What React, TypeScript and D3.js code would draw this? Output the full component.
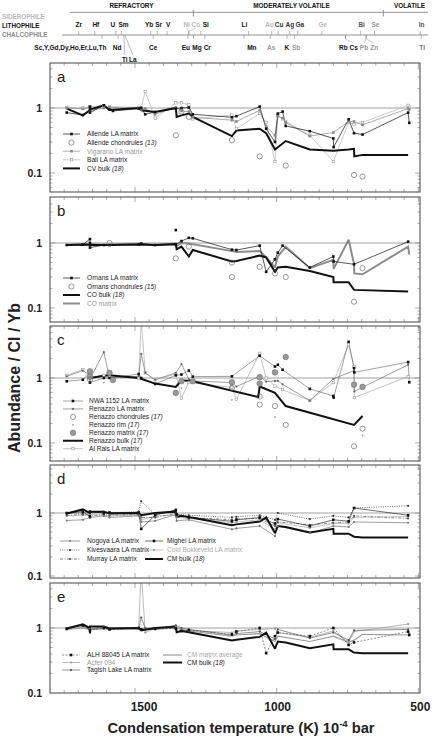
import React from 'react';
import * as d3 from 'd3';

type Pt = [string, number];

// Condensation temperatures (K, 10^-4 bar) of the plotted elements
const elementTemps: [string, number][] = [
  ['Zr', 1741], ['Hf', 1684], ['Sc', 1659], ['Y', 1659], ['Gd', 1659], ['Dy', 1659], ['Ho', 1659], ['Er', 1659], ['Lu', 1659], ['Th', 1659],
  ['U', 1610], ['Nd', 1602], ['Sm', 1590], ['Ti', 1582], ['La', 1578], ['Yb', 1487], ['Ce', 1478], ['Sr', 1464], ['V', 1429],
  ['Eu', 1356], ['Ni', 1353], ['Co', 1352], ['Mg', 1336], ['Si', 1310], ['Cr', 1296], ['Mn', 1158], ['Li', 1142],
  ['As', 1065], ['Au', 1060], ['Cu', 1037], ['K', 1006], ['Ag', 996], ['Sb', 979], ['Ga', 968], ['Ge', 883],
  ['Rb', 800], ['Cs', 799], ['Bi', 746], ['Pb', 727], ['Zn', 726], ['Se', 697], ['In', 536], ['Tl', 532],
];
const TEMP = new Map(elementTemps);
const temp = (e: string) => TEMP.get(e) as number;

const xTicks = d3.range(500, 1800, 50);
const xTickLabels = [1500, 1000, 500];

// Header element labels: [label, element, row, group]
const headerLabels: [string, string, string, string][] = [
  ['Zr', 'Zr', 'u', 'l'], ['Hf', 'Hf', 'u', 'l'], ['U', 'U', 'u', 'l'], ['Sm', 'Sm', 'u', 'l'], ['Yb', 'Yb', 'u', 'l'], ['Sr', 'Sr', 'u', 'l'],
  ['V', 'V', 'u', 'l'], ['Ni', 'Ni', 'u', 's'], ['Co', 'Co', 'u', 's'], ['Si', 'Si', 'u', 'l'], ['Li', 'Li', 'u', 'l'], ['Au', 'Au', 'u', 's'],
  ['Cu', 'Cu', 'u', 'd'], ['Ag', 'Ag', 'u', 'd'], ['Ga', 'Ga', 'u', 'd'], ['Ge', 'Ge', 'u', 's'], ['Bi', 'Bi', 'u', 'm'], ['Se', 'Se', 'u', 'c'],
  ['In', 'In', 'u', 'm'],
  ['Sc,Y,Gd,Dy,Ho,Er,Lu,Th', 'Sc', 'd', 'l'], ['Nd', 'Nd', 'd', 'l'], ['Ce', 'Ce', 'd', 'l'], ['Eu', 'Eu', 'd', 'l'], ['Mg', 'Mg', 'd', 'l'],
  ['Cr', 'Cr', 'd', 'l'], ['Mn', 'Mn', 'd', 'l'], ['As', 'As', 'd', 'c'], ['K', 'K', 'd', 'l'], ['Sb', 'Sb', 'd', 'c'], ['Rb', 'Rb', 'd', 'l'],
  ['Cs', 'Cs', 'd', 'l'], ['Pb', 'Pb', 'd', 'c'], ['Zn', 'Zn', 'd', 'c'], ['Tl', 'Tl', 'd', 'm2'],
  ['Ti', 'Ti', 'd2', 'l'], ['La', 'La', 'd2', 'l'],
];
const labelDx: Record<string, number> = {
  Hf: 1, U: -3, Sm: 2, Yb: -1.5, Sr: 1.5, V: 1, Ni: -2, Co: 7, Si: 5, Li: -4, Au: -2, Cu: 1, Ga: 2, Ge: 1, Bi: 1, Se: 1, In: 1.5,
  'Sc,Y,Gd,Dy,Ho,Er,Lu,Th': 4.5, Nd: -1, Eu: -2, Mg: 3.5, Cr: 2.5, Mn: 8, As: 1, Sb: 1.5, Rb: -2, Cs: 8, Pb: -2, Zn: 8, Tl: 1, Ti: 1, La: 8,
};
const withConnector = new Set(['Ni', 'Co', 'Cs', 'Pb', 'Zn', 'Ti', 'La']);
const groupColor: Record<string, string> = { l: '#111', s: '#b8b8b8', c: '#999', d: '#333', m: '#555', m2: '#777' };

// ---------------- Panel a ----------------
const allendeLA: Pt[] = [['Zr', 0.85], ['Hf', 0.78], ['Sc', 0.95], ['Y', 1.05], ['Lu', 0.85], ['U', 1.1], ['Sm', 0.95], ['La', 0.9], ['Yb', 0.98], ['Ce', 1.0], ['Sr', 0.8], ['V', 0.87], ['Eu', 0.98], ['Mg', 1.0], ['Si', 1.02], ['Cr', 0.8], ['Mn', 0.72], ['Li', 0.75], ['Au', 1.05], ['Cu', 0.48], ['K', 0.3], ['Ag', 0.82], ['Sb', 0.88], ['Ga', 0.53], ['Ge', 0.44], ['Rb', 0.34], ['Cs', 0.25], ['Bi', 0.67], ['Pb', 0.41], ['Se', 0.39], ['In', 0.85], ['Tl', 0.59]];
const vigaranoLA: Pt[] = [['Zr', 1.0], ['Hf', 0.97], ['Sc', 1.02], ['Y', 0.92], ['U', 1.0], ['Sm', 1.02], ['Yb', 1.0], ['Ce', 0.95], ['Sr', 0.98], ['V', 0.8], ['Eu', 1.02], ['Mg', 0.9], ['Si', 0.88], ['Cr', 0.72], ['Mn', 0.65], ['Li', 0.62], ['Au', 0.92], ['Cu', 0.52], ['K', 0.38], ['Ag', 0.75], ['Sb', 0.7], ['Ga', 0.6], ['Ge', 0.37], ['Rb', 0.42], ['Bi', 0.62], ['Pb', 0.62], ['Se', 0.55], ['In', 0.98], ['Tl', 0.95]];
const baliLA: Pt[] = [['Zr', 1.02], ['Hf', 1.0], ['Sc', 1.05], ['U', 1.08], ['Sm', 1.05], ['Yb', 1.02], ['Ce', 1.0], ['Sr', 1.8], ['V', 0.7], ['Eu', 1.2], ['Mg', 1.2], ['Si', 1.12], ['Cr', 0.68], ['Mn', 0.78], ['Li', 0.48], ['Au', 0.82], ['Cu', 0.6], ['K', 0.15], ['Ag', 0.76], ['Sb', 0.68], ['Ga', 0.62], ['Ge', 0.38], ['Rb', 0.15], ['Bi', 0.6], ['Pb', 0.56], ['Se', 0.6], ['In', 1.1], ['Tl', 1.02]];
const allendeChondrules: Pt[] = [['Eu', 0.38], ['Mg', 0.88], ['Si', 0.73], ['Mn', 0.32], ['Au', 0.18], ['Ga', 0.13], ['Pb', 0.093], ['Se', 0.088]];
const cvBulk: Pt[] = [['Zr', 0.98], ['Hf', 0.77], ['Sc', 0.92], ['Y', 0.95], ['U', 1.1], ['Sm', 0.93], ['Yb', 1.0], ['Ce', 0.92], ['V', 0.87], ['Eu', 1.0], ['Ni', 0.73], ['Mg', 0.77], ['Si', 0.82], ['Cr', 0.73], ['Mn', 0.37], ['Li', 0.45], ['Au', 0.48], ['Cu', 0.41], ['K', 0.23], ['Ga', 0.31], ['Ge', 0.23], ['Rb', 0.22], ['Bi', 0.23], ['Pb', 0.235], ['Zn', 0.18], ['Se', 0.19], ['In', 0.19]];

// ---------------- Panel b ----------------
const ornansLA: Pt[] = [['Zr', 0.93], ['Hf', 0.94], ['Sc', 1.15], ['Y', 1.0], ['Lu', 0.85], ['U', 0.93], ['Sm', 0.93], ['Yb', 0.95], ['Ce', 0.98], ['V', 0.93], ['Eu', 0.95], ['Mg', 1.07], ['Si', 1.2], ['Cr', 1.18], ['Mn', 0.79], ['Li', 0.78], ['Au', 0.91], ['Cu', 0.36], ['K', 0.56], ['Ag', 0.71], ['Sb', 0.91], ['Ge', 0.42], ['Rb', 0.62], ['Cs', 0.52], ['Pb', 0.47], ['In', 1.05]];
const ornansLAOutliers: Pt[] = [['Eu', 1.58]];
const ornansChondrules: Pt[] = [['Sm', 1.0], ['Eu', 0.58], ['Si', 0.88], ['Mn', 0.5], ['Mn', 0.3], ['Au', 0.43], ['K', 0.34], ['Ga', 0.3], ['Pb', 0.125], ['Se', 0.41]];
const coBulk: Pt[] = [['Zr', 0.93], ['Hf', 0.95], ['Sc', 0.93], ['U', 0.93], ['Sm', 0.93], ['Yb', 0.95], ['V', 0.93], ['Eu', 0.96], ['Ni', 0.8], ['Mg', 0.88], ['Si', 0.62], ['Cr', 0.78], ['Mn', 0.52], ['Li', 0.53], ['Au', 0.64], ['Cu', 0.6], ['K', 0.36], ['Ag', 0.42], ['Ga', 0.43], ['Ge', 0.37], ['Rb', 0.3], ['Cs', 0.25], ['Bi', 0.25], ['Pb', 0.19], ['In', 0.18]];
const coMatrix: Pt[] = [['Zr', 0.93], ['Hf', 0.95], ['Sc', 0.97], ['U', 0.93], ['Sm', 0.95], ['Yb', 0.97], ['V', 0.93], ['Eu', 0.98], ['Ni', 0.9], ['Mg', 1.0], ['Si', 0.98], ['Mn', 0.75], ['Li', 0.73], ['Au', 0.75], ['Cu', 0.6], ['K', 0.42], ['Ag', 0.62], ['Ga', 0.88], ['Ge', 0.41], ['Rb', 0.55], ['Cs', 0.4], ['Bi', 1.12], ['Pb', 0.48], ['Zn', 0.34], ['Se', 0.33], ['In', 0.88], ['Tl', 0.66]];

// ---------------- Panel c ----------------
const nwa1152LA: Pt[] = [['Zr', 0.89], ['Hf', 0.94], ['Sc', 1.2], ['Y', 0.85], ['U', 1.0], ['Sm', 1.0], ['Yb', 1.15], ['Ce', 1.0], ['V', 0.81], ['Eu', 1.1], ['Mg', 1.13], ['Si', 1.3], ['Cr', 1.05], ['Mn', 1.06], ['Au', 2.2], ['K', 1.5], ['Ag', 1.6], ['Sb', 1.34], ['Ge', 0.68], ['Rb', 0.53], ['Cs', 0.5], ['Bi', 3.6], ['Pb', 1.42], ['Zn', 1.22], ['In', 1.76], ['Tl', 0.86]];
const renazzoLA: Pt[] = [['Zr', 1.06], ['Hf', 1.3], ['Sc', 1.1], ['Y', 0.95], ['U', 2.5], ['Sm', 1.0], ['Yb', 1.06], ['Ce', 2.35], ['Sr', 1.2], ['V', 0.94], ['Eu', 1.2], ['Mg', 1.64], ['Si', 0.95], ['Cr', 0.9], ['Mn', 0.85], ['Li', 0.74], ['Au', 1.06], ['Cu', 0.88], ['K', 0.9], ['Ag', 0.9], ['Sb', 0.8], ['Ge', 0.45], ['Rb', 0.97], ['Pb', 1.3], ['Zn', 0.62], ['Se', 0.72], ['In', 1.6]];
const alRaisLA: Pt[] = [['Zr', 1.1], ['Hf', 1.35], ['Sc', 1.0], ['U', 1.1], ['Sm', 1.05], ['Yb', 1.0], ['Ce', 8], ['Sr', 1.2], ['V', 0.94], ['Eu', 1.15], ['Mg', 0.49], ['Si', 0.85], ['Mn', 0.72], ['Li', 0.47], ['Au', 2.4], ['Cu', 1.0], ['K', 0.75], ['Sb', 0.66], ['Ge', 0.45], ['Rb', 0.85], ['Bi', 3.3], ['Pb', 1.5], ['Zn', 0.5], ['In', 1.05]];
const renazzoChondrules: Pt[] = [['Sc', 0.95], ['Mn', 0.7], ['Au', 0.52], ['Au', 0.39], ['K', 0.37], ['Ga', 0.19], ['Pb', 0.089], ['Se', 0.166]];
const renazzoRim: Pt[] = [['U', 0.85], ['Mg', 0.7], ['Mn', 0.46], ['K', 0.25], ['Se', 0.13]];
const renazzoMatrix: Pt[] = [['Sc', 1.27], ['Sc', 1.05], ['Sm', 1.2], ['La', 0.93], ['Eu', 0.59], ['Mg', 0.89], ['Cr', 0.89], ['Mn', 0.86], ['Au', 1.03], ['Au', 0.82], ['K', 1.22], ['Ga', 2.1], ['Pb', 0.79], ['Se', 0.73]];
const renazzoBulk: Pt[] = [['Sc', 1.0], ['U', 1.08], ['Sm', 1.1], ['Yb', 1.0], ['V', 0.82], ['Eu', 0.73], ['Mg', 0.92], ['Cr', 0.89], ['As', 0.51], ['Au', 0.74], ['K', 0.59], ['Ga', 0.37], ['Pb', 0.19], ['Se', 0.26]];

// ---------------- Panel d ----------------
const nogoyaLA: Pt[] = [['Zr', 0.76], ['Hf', 0.78], ['Sc', 0.85], ['U', 0.9], ['Sm', 0.85], ['Yb', 0.9], ['Ce', 0.72], ['V', 0.75], ['Eu', 0.95], ['Ni', 0.75], ['Si', 0.78], ['Mn', 0.55], ['Li', 0.57], ['Au', 0.62], ['K', 0.43], ['Ag', 0.62], ['Ge', 0.48], ['Rb', 0.62], ['Bi', 0.6], ['Pb', 0.72], ['In', 0.7]];
const kivesvaaraLA: Pt[] = [['Zr', 0.98], ['Hf', 1.0], ['Sc', 1.0], ['U', 1.05], ['Sm', 1.0], ['Yb', 1.05], ['Ce', 1.53], ['V', 0.95], ['Eu', 1.1], ['Ni', 0.95], ['Si', 0.92], ['Mn', 0.85], ['Li', 0.87], ['Au', 0.92], ['K', 0.78], ['Ag', 1.0], ['Ge', 0.8], ['Rb', 0.9], ['Bi', 0.85], ['Pb', 1.2], ['In', 1.3]];
const murrayLA: Pt[] = [['Zr', 0.92], ['Hf', 0.95], ['Sc', 0.9], ['U', 0.95], ['Sm', 0.92], ['Yb', 0.95], ['Ce', 0.85], ['V', 0.85], ['Eu', 0.98], ['Ni', 0.88], ['Si', 0.85], ['Mn', 0.78], ['Li', 0.8], ['Au', 0.82], ['K', 0.62], ['Ag', 0.72], ['Ge', 0.65], ['Rb', 0.7], ['Bi', 0.72], ['Pb', 0.9], ['In', 0.82]];
const migheiLA: Pt[] = [['Zr', 1.0], ['Hf', 1.05], ['Sc', 0.88], ['Y', 1.05], ['U', 1.0], ['Sm', 1.02], ['Yb', 1.02], ['Ce', 0.56], ['V', 0.92], ['Eu', 1.12], ['Ni', 0.95], ['Si', 0.85], ['Mn', 0.74], ['Li', 0.78], ['Au', 0.85], ['K', 0.68], ['Ag', 0.8], ['Ge', 0.62], ['Rb', 0.78], ['Bi', 0.74], ['Pb', 1.2], ['In', 0.92]];
const coldBokkeveldLA: Pt[] = [['Zr', 0.9], ['Hf', 0.92], ['Sc', 0.95], ['U', 0.92], ['Sm', 0.9], ['Yb', 0.92], ['Ce', 0.78], ['V', 0.9], ['Eu', 0.92], ['Ni', 0.85], ['Si', 0.82], ['Mn', 0.7], ['Li', 0.72], ['Au', 0.78], ['K', 0.55], ['Ag', 0.7], ['Ge', 0.58], ['Rb', 0.68], ['Bi', 0.68], ['Pb', 0.85], ['In', 0.88]];
const cmBulk: Pt[] = [['Zr', 0.98], ['Hf', 1.14], ['Sc', 1.0], ['Y', 0.82], ['Lu', 1.05], ['U', 1.05], ['Sm', 0.98], ['Yb', 1.0], ['Ce', 0.92], ['V', 1.0], ['Eu', 1.05], ['Ni', 0.86], ['Mg', 0.9], ['Si', 0.86], ['Cr', 0.84], ['Mn', 0.64], ['Li', 0.66], ['Au', 0.73], ['Cu', 0.85], ['K', 0.48], ['Ag', 0.62], ['Ga', 0.6], ['Ge', 0.49], ['Rb', 0.56], ['Cs', 0.47], ['Bi', 0.47], ['Pb', 0.42], ['Se', 0.41], ['In', 0.41]];

// ---------------- Panel e ----------------
const alh88045LA: Pt[] = [['Zr', 0.97], ['Hf', 1.1], ['Sc', 0.92], ['U', 1.0], ['Sm', 0.95], ['Yb', 1.0], ['Ce', 0.95], ['V', 0.98], ['Eu', 0.98], ['Mg', 0.9], ['Si', 0.93], ['Mn', 0.8], ['Li', 0.88], ['Au', 1.0], ['Cu', 0.41], ['K', 0.75], ['Ag', 0.85], ['Ge', 0.75], ['Rb', 1.0], ['Bi', 0.55], ['Pb', 0.6], ['In', 0.88], ['Tl', 0.78]];
const acfer094: Pt[] = [['Zr', 0.95], ['Hf', 1.05], ['Sc', 0.95], ['U', 0.98], ['Sm', 0.95], ['Yb', 1.0], ['Ce', 8], ['Sr', 0.85], ['V', 0.98], ['Eu', 1.05], ['Mg', 0.95], ['Si', 0.92], ['Mn', 0.85], ['Li', 0.9], ['Au', 0.95], ['K', 0.98], ['Ag', 0.85], ['Ge', 0.72], ['Rb', 0.9], ['Bi', 0.6], ['Pb', 0.88], ['In', 1.15]];
const tagishLakeLA: Pt[] = [['Zr', 1.0], ['Hf', 1.08], ['Sc', 0.95], ['U', 1.05], ['Sm', 1.0], ['Yb', 1.0], ['Ce', 1.45], ['Sr', 1.0], ['V', 0.95], ['Eu', 1.1], ['Mg', 1.0], ['Si', 0.95], ['Mn', 0.78], ['Li', 0.82], ['Au', 0.88], ['K', 0.68], ['Ag', 0.95], ['Ge', 0.7], ['Rb', 0.85], ['Bi', 0.65], ['Pb', 0.92], ['In', 0.95], ['Tl', 0.8]];
const cmMatrixAverage: Pt[] = [['Zr', 0.95], ['Hf', 1.0], ['Sc', 0.95], ['U', 0.98], ['Sm', 0.95], ['Yb', 0.98], ['V', 0.95], ['Eu', 1.0], ['Si', 0.9], ['Mn', 0.75], ['Li', 0.78], ['Au', 0.82], ['K', 0.62], ['Ag', 0.75], ['Ge', 0.62], ['Rb', 0.75], ['Bi', 0.6], ['Pb', 0.65], ['Se', 0.8], ['In', 0.78]];

type Series = {
  data: Pt[]; stroke?: string; width?: number; dash?: string; marker?: string; mcolor?: string;
  label?: string; italic?: string; tcolor?: string;
};

const S = {
  allendeLA: { data: allendeLA, stroke: '#111', width: 0.7, marker: 'sq', mcolor: '#111', label: 'Allende LA matrix' },
  allendeCh: { data: allendeChondrules, marker: 'ocirc', label: 'Allende chondrules ', italic: '(13)' },
  vigarano: { data: vigaranoLA, stroke: '#8a8a8a', width: 0.7, marker: 'sq', mcolor: '#888', label: 'Vigarano LA matrix', tcolor: '#9a9a9a' },
  bali: { data: baliLA, stroke: '#b4b4b4', width: 0.7, marker: 'osq', mcolor: '#999', label: 'Bali LA matrix' },
  cvBulk: { data: cvBulk, stroke: '#111', width: 2, label: 'CV bulk ', italic: '(18)' },
  ornans: { data: ornansLA, stroke: '#111', width: 0.7, marker: 'sq', mcolor: '#111', label: 'Ornans LA matrix' },
  ornansOut: { data: ornansLAOutliers, marker: 'sq', mcolor: '#111' },
  ornansCh: { data: ornansChondrules, marker: 'ocirc', label: 'Ornans chondrules ', italic: '(15)' },
  coBulk: { data: coBulk, stroke: '#111', width: 2, label: 'CO bulk ', italic: '(18)' },
  coMatrix: { data: coMatrix, stroke: '#8c8c8c', width: 2, label: 'CO matrix', tcolor: '#9a9a9a' },
  nwa: { data: nwa1152LA, stroke: '#444', width: 0.5, marker: 'sq', mcolor: '#111', label: 'NWA 1152 LA matrix' },
  renazzoLA: { data: renazzoLA, stroke: '#777', width: 0.7, marker: 'dot', mcolor: '#666', label: 'Renazzo LA matrix' },
  renazzoCh: { data: renazzoChondrules, marker: 'ocirc', label: 'Renazzo chondrules ', italic: '(17)' },
  renazzoRim: { data: renazzoRim, marker: 'plus', label: 'Renazzo rim ', italic: '(17)' },
  renazzoMx: { data: renazzoMatrix, marker: 'gcirc', label: 'Renazzo matrix ', italic: '(17)' },
  renazzoBulk: { data: renazzoBulk, stroke: '#111', width: 2, label: 'Renazzo bulk ', italic: '(17)' },
  alRais: { data: alRaisLA, stroke: '#aaa', width: 0.7, marker: 'osq', mcolor: '#999', label: 'Al Rais LA matrix' },
  nogoya: { data: nogoyaLA, stroke: '#777', width: 0.7, marker: 'dot', mcolor: '#777', label: 'Nogoya LA matrix' },
  kives: { data: kivesvaaraLA, stroke: '#333', width: 0.7, dash: '1,1.3', marker: 'dot', mcolor: '#333', label: 'Kivesvaara LA matrix' },
  murray: { data: murrayLA, stroke: '#555', width: 0.7, dash: '3,1.5,1,1.5', marker: 'dot', mcolor: '#555', label: 'Murray LA matrix' },
  mighei: { data: migheiLA, stroke: '#111', width: 0.6, marker: 'sq', mcolor: '#111', label: 'Mighei LA matrix' },
  coldBok: { data: coldBokkeveldLA, stroke: '#aaa', width: 0.7, marker: 'dot', mcolor: '#999', label: 'Cold Bokkeveld LA matrix', tcolor: '#aaa' },
  cmBulk: { data: cmBulk, stroke: '#111', width: 2, label: 'CM bulk ', italic: '(18)' },
  alh: { data: alh88045LA, stroke: '#222', width: 0.5, dash: '2,1.5', marker: 'sq', mcolor: '#111', label: 'ALH 88045 LA matrix' },
  acfer: { data: acfer094, stroke: '#9c9c9c', width: 0.7, marker: 'dot', mcolor: '#999', label: 'Acfer 094', tcolor: '#999' },
  tagish: { data: tagishLakeLA, stroke: '#666', width: 0.7, marker: 'dot', mcolor: '#555', label: 'Tagish Lake LA matrix' },
  cmMatrix: { data: cmMatrixAverage, stroke: '#9c9c9c', width: 1.2, label: 'CM matrix average', tcolor: '#aaa' },
} as Record<string, Series>;

type Legend = { x0: number; x1: number; tx: number; y0: number; dy: number; items: Series[] };
type PanelCfg = { id: string; top: number; bottom: number; y1: number; dec: number; series: Series[]; legends: Legend[] };

const panels: PanelCfg[] = [
  {
    id: 'a', top: 63, bottom: 192, y1: 108, dec: 65,
    series: [S.bali, S.vigarano, S.allendeLA, S.cvBulk, S.allendeCh],
    legends: [{ x0: 63, x1: 80, tx: 87, y0: 134, dy: 8.6, items: [S.allendeLA, S.allendeCh, S.vigarano, S.bali, S.cvBulk] }],
  },
  {
    id: 'b', top: 197, bottom: 322, y1: 243, dec: 65,
    series: [S.coMatrix, S.ornans, S.ornansOut, S.coBulk, S.ornansCh],
    legends: [{ x0: 63, x1: 80, tx: 87, y0: 278, dy: 8.5, items: [S.ornans, S.ornansCh, S.coBulk, S.coMatrix] }],
  },
  {
    id: 'c', top: 326, bottom: 461, y1: 378, dec: 65,
    series: [S.alRais, S.renazzoLA, S.nwa, S.renazzoBulk, S.renazzoMx, S.renazzoCh, S.renazzoRim],
    legends: [{ x0: 63, x1: 83, tx: 89, y0: 401, dy: 7.95, items: [S.nwa, S.renazzoLA, S.renazzoCh, S.renazzoRim, S.renazzoMx, S.renazzoBulk, S.alRais] }],
  },
  {
    id: 'd', top: 465, bottom: 578, y1: 513, dec: 63,
    series: [S.coldBok, S.nogoya, S.murray, S.kives, S.mighei, S.cmBulk],
    legends: [
      { x0: 60, x1: 80, tx: 87, y0: 541, dy: 9, items: [S.nogoya, S.kives, S.murray] },
      { x0: 145, x1: 163, tx: 167, y0: 541, dy: 9, items: [S.mighei, S.coldBok, S.cmBulk] },
    ],
  },
  {
    id: 'e', top: 583, bottom: 693, y1: 628, dec: 65,
    series: [S.cmMatrix, S.acfer, S.tagish, S.alh, S.cmBulk],
    legends: [
      { x0: 62, x1: 80, tx: 87, y0: 655, dy: 7.5, items: [S.alh, S.acfer, S.tagish] },
      { x0: 163, x1: 182, tx: 187, y0: 655, dy: 7.5, items: [S.cmMatrix, S.cmBulk] },
    ],
  },
];

const FONT = "'Liberation Sans', Arial, Helvetica, sans-serif";
const LEFT = 50;
const RIGHT = 420;

function Marker({ kind, x, y, color }: { kind: string; x: number; y: number; color?: string }) {
  const c = color || '#111';
  switch (kind) {
    case 'sq':
      return <rect x={x - 1.3} y={y - 1.3} width={2.6} height={2.6} fill={c} />;
    case 'dot':
      return <circle cx={x} cy={y} r={1.1} fill={c} />;
    case 'osq':
      return <rect x={x - 1.2} y={y - 1.2} width={2.4} height={2.4} fill="#fff" stroke={c} strokeWidth={0.6} />;
    case 'ocirc':
      return <circle cx={x} cy={y} r={2.6} fill="none" stroke="#555" strokeWidth={0.6} />;
    case 'plus':
      return (
        <g stroke="#777" strokeWidth={0.5}>
          <line x1={x - 1} x2={x + 1} y1={y} y2={y} />
          <line x1={x} x2={x} y1={y - 1} y2={y + 1} />
        </g>
      );
    case 'gcirc':
      return <circle cx={x} cy={y} r={2.8} fill="#999" stroke="#666" strokeWidth={0.5} />;
    default:
      return null;
  }
}

function Panel({ p, x }: { p: PanelCfg; x: d3.ScaleLinear<number, number> }) {
  const ys = d3.scaleLog().domain([0.1, 1]).range([p.y1 + p.dec, p.y1]);
  const line = d3.line<Pt>().x((d) => x(temp(d[0]))).y((d) => ys(d[1]));
  const sorted = (data: Pt[]) => [...data].sort((a, b) => temp(b[0]) - temp(a[0]));
  const clipId = `clip-${p.id}`;
  const yTicks: { v: number; major: boolean }[] = [];
  for (let e = -2; e <= 1; e++) {
    for (let m = 1; m <= 9; m++) {
      const v = m * Math.pow(10, e);
      const py = ys(v);
      if (py > p.top + 0.8 && py < p.bottom - 0.8) yTicks.push({ v, major: m === 1 });
    }
  }
  const xt = xTicks.filter((t) => x(t) > LEFT + 0.5 && x(t) < RIGHT - 0.5);
  return (
    <g>
      <defs>
        <clipPath id={clipId}>
          <rect x={LEFT} y={p.top} width={RIGHT - LEFT} height={p.bottom - p.top} />
        </clipPath>
      </defs>
      <g stroke="#777" strokeWidth={0.6}>
        {xt.map((t) => {
          const L = t % 500 === 0 ? 5 : 3;
          return (
            <g key={`xt${t}`}>
              <line x1={x(t)} x2={x(t)} y1={p.top} y2={p.top + L} />
              <line x1={x(t)} x2={x(t)} y1={p.bottom} y2={p.bottom - L} />
            </g>
          );
        })}
        {yTicks.map((t) => {
          const L = t.major ? 5 : 2.5;
          return (
            <g key={`yt${t.v}`}>
              <line x1={LEFT} x2={LEFT + L} y1={ys(t.v)} y2={ys(t.v)} />
              <line x1={RIGHT} x2={RIGHT - L} y1={ys(t.v)} y2={ys(t.v)} />
            </g>
          );
        })}
      </g>
      <line x1={LEFT} x2={RIGHT} y1={ys(1)} y2={ys(1)} stroke="#8a8a8a" strokeWidth={0.8} />
      <g clipPath={`url(#${clipId})`}>
        {p.series.filter((s) => s.stroke).map((s, i) => (
          <path key={`l${i}`} d={line(sorted(s.data)) || ''} fill="none" stroke={s.stroke} strokeWidth={s.width}
            strokeDasharray={s.dash} strokeLinejoin="miter" strokeMiterlimit={2} />
        ))}
        {p.series.filter((s) => s.marker).map((s, i) => (
          <g key={`m${i}`}>
            {s.data.map((d, j) => (
              <Marker key={j} kind={s.marker as string} x={x(temp(d[0]))} y={ys(d[1])} color={s.mcolor} />
            ))}
          </g>
        ))}
      </g>
      <rect x={LEFT} y={p.top} width={RIGHT - LEFT} height={p.bottom - p.top} fill="none" stroke="#555" strokeWidth={1.1} />
      <text x={57} y={p.top + 19} fontSize={15} fill="#222">{p.id}</text>
      {[1, 0.1].map((v) => (
        <text key={v} x={42} y={ys(v) + 3.6} fontSize={10.5} fontWeight="bold" textAnchor="end" fill="#222">{v === 1 ? '1' : '0.1'}</text>
      ))}
      {p.legends.map((lg, li) => (
        <g key={`lg${li}`}>
          {lg.items.map((s, k) => {
            const y = lg.y0 + k * lg.dy;
            const mid = (lg.x0 + lg.x1) / 2;
            return (
              <g key={k}>
                {s.stroke && (
                  <line x1={lg.x0} x2={lg.x1} y1={y} y2={y} stroke={s.stroke} strokeWidth={s.width} strokeDasharray={s.dash} />
                )}
                {s.marker && <Marker kind={s.marker} x={mid} y={y} color={s.mcolor} />}
                <text x={lg.tx} y={y + 2.3} fontSize={6.6} fill={s.tcolor || '#222'}>
                  {s.label}
                  {s.italic && <tspan fontStyle="italic">{s.italic}</tspan>}
                </text>
              </g>
            );
          })}
        </g>
      ))}
    </g>
  );
}

function Header({ x }: { x: d3.ScaleLinear<number, number> }) {
  const hx = (e: string) => x(temp(e)) + 12;
  const rowY: Record<string, number> = { u: 26.7, d: 49.5, d2: 61.7 };
  return (
    <g>
      <text x={131.5} y={7.6} fontSize={6.4} fontWeight="bold" textAnchor="middle" fill="#111">REFRACTORY</text>
      <text x={291.5} y={7.6} fontSize={6.4} fontWeight="bold" textAnchor="middle" fill="#111">MODERATELY VOLATILE</text>
      <text x={409.5} y={7.6} fontSize={6.4} fontWeight="bold" textAnchor="middle" fill="#111">VOLATILE</text>
      <line x1={70} x2={428} y1={12.3} y2={12.3} stroke="#777" strokeWidth={0.8} />
      <line x1={193.3} x2={193.3} y1={10} y2={16.5} stroke="#777" strokeWidth={0.8} />
      <line x1={383.3} x2={383.3} y1={10} y2={16.5} stroke="#777" strokeWidth={0.8} />
      <text x={2} y={18.6} fontSize={6.3} fontWeight="bold" fill="#b8b8b8">SIDEROPHILE</text>
      <text x={2} y={27.6} fontSize={6.3} fontWeight="bold" fill="#111">LITHOPHILE</text>
      <text x={2} y={36.6} fontSize={6.3} fontWeight="bold" fill="#8a8a8a">CHALCOPHILE</text>
      <line x1={62} x2={428} y1={35} y2={35} stroke="#777" strokeWidth={0.8} />
      {headerLabels.map(([label, el, row, grp]) => {
        const tx = hx(el);
        const lx = tx + (labelDx[label] || 0);
        const color = groupColor[grp];
        const isRee = label.startsWith('Sc,');
        const conn = withConnector.has(label);
        return (
          <g key={label}>
            {row === 'u' && <line x1={tx} x2={tx} y1={31} y2={35} stroke="#888" strokeWidth={0.6} />}
            {row === 'd' && <line x1={tx} x2={tx} y1={35} y2={39} stroke="#888" strokeWidth={0.6} />}
            {row === 'u' && conn && <line x1={tx} x2={lx} y1={31} y2={28.3} stroke="#999" strokeWidth={0.5} />}
            {row === 'd' && conn && <line x1={tx} x2={lx} y1={39} y2={43} stroke="#999" strokeWidth={0.5} />}
            {row === 'd2' && <line x1={tx} x2={lx} y1={35} y2={55} stroke="#777" strokeWidth={0.5} />}
            <text x={lx} y={rowY[row]} fontSize={6.5} fontWeight="bold" fill={color} textAnchor={isRee ? 'end' : 'middle'}>{label}</text>
          </g>
        );
      })}
    </g>
  );
}

export default function App() {
  const x = d3.scaleLinear().domain([1800, 500]).range([50, 418.33]);
  const last = panels[panels.length - 1];
  const labelShift: Record<number, number> = { 1500: 9, 1000: 1, 500: 2 };
  return (
    <svg width={432} height={737} viewBox="0 0 432 737" fontFamily={FONT}
      style={{ position: 'absolute', left: 0, top: 0, background: '#fff' }}>
      <rect x={0} y={0} width={432} height={737} fill="#fff" />
      <Header x={x} />
      {panels.map((p) => (
        <Panel key={p.id} p={p} x={x} />
      ))}
      {xTickLabels.map((t) => (
        <text key={t} x={x(t) + labelShift[t]} y={last.bottom + 17.5} fontSize={12} fontWeight="bold" textAnchor="middle" fill="#222">{t}</text>
      ))}
      <text x={241} y={733} fontSize={14.7} fontWeight="bold" textAnchor="middle" fill="#222">
        Condensation temperature (K) 10
        <tspan fontSize={9.5} dy={-6}>-4</tspan>
        <tspan dy={6}> bar</tspan>
      </text>
      <text transform="translate(20,378) rotate(-90)" fontSize={16} fontWeight="bold" textAnchor="middle" fill="#222">Abundance / CI / Yb</text>
    </svg>
  );
}
